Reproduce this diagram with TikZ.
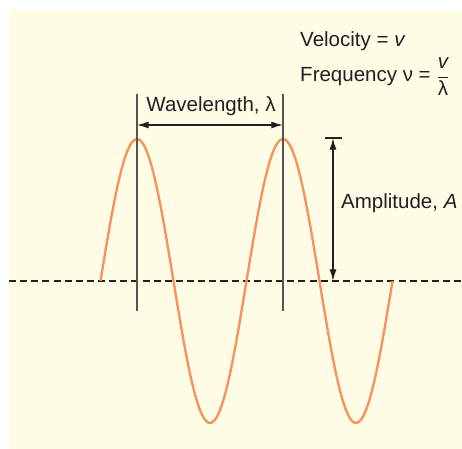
\documentclass[tikz,border=0pt]{standalone}
\usepackage{fontspec}
\usepackage{amsmath}
\setmainfont{Liberation Sans}
\usetikzlibrary{arrows.meta, positioning, calc}
\definecolor{ink}{HTML}{231F20}
\definecolor{muted}{HTML}{555555}
\definecolor{paper}{HTML}{FFFDE6}
\definecolor{wave}{HTML}{F7925A}
\tikzset{
  font=\fontsize{17.5}{21}\selectfont,
  >={Latex[length=10pt, width=6pt]},
  %
  lbl/.style={text=ink, inner sep=0pt, anchor=base west},
  guide/.style={draw=muted, line width=1.1pt},
  dim/.style={draw=ink, line width=1.1pt, <->},
  axisline/.style={draw=ink, line width=1.1pt, dash pattern=on 6pt off 3.5pt},
  wavy/.style={draw=wave, line width=2pt},
}

\begin{document}
\begin{tikzpicture}[x=0.03cm, y=-0.03cm]

\useasboundingbox (0,0) rectangle (462,449);
\fill[paper] (9,10) rectangle (462,449);

% ------------------------------------------------------------------ axis
\coordinate (axl) at (9,281);
\coordinate (axr) at (462,281);
\draw[axisline] (axl) -- (axr);

% ------------------------------------------------------------------ wave
\draw[wavy] plot[domain=100.5:392.5, samples=120, smooth]
  (\x, {281-142*cos(2.46575*(\x-137))});

% ------------------------------------------------------------ wavelength
\coordinate (g1top) at (137,94);
\coordinate (g1bot) at (137,311);
\coordinate (g2top) at (283,94);
\coordinate (g2bot) at (283,311);
\draw[guide] (g1top) -- (g1bot);
\draw[guide] (g2top) -- (g2bot);

\coordinate (wl1) at (137,125);
\coordinate (wl2) at (283,125);
\draw[dim] (wl1) -- (wl2);
\node[lbl, anchor=base] (wlen) at (211,112) {Wavelength, λ};

% ------------------------------------------------------------- amplitude
\coordinate (tickl) at (325,138);
\coordinate (tickr) at (342,138);
\draw[guide, draw=ink] (tickl) -- (tickr);
\coordinate (amptop) at (333,138);
\coordinate (ampbot) at (333,281);
\draw[dim] (amptop) -- (ampbot);
\node[lbl] (amp) at (341,208) {Amplitude, \textit{A}};

% ---------------------------------------------------------------- legend
\node[lbl] (vel) at (300,46) {Velocity = \textit{v}};
\node[lbl] (freq) at (300,82)
  {Frequency ν = $\dfrac{\textit{v}}{\text{λ}}$};

\end{tikzpicture}
\end{document}
